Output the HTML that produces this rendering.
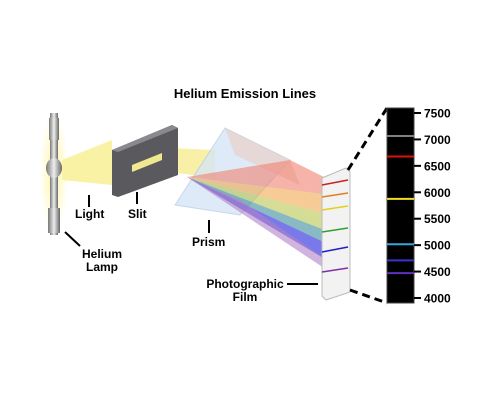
<!DOCTYPE html>
<html><head><meta charset="utf-8"><style>
html,body{margin:0;padding:0;background:#fff;}
svg{display:block;font-family:"Liberation Sans",Arial,sans-serif;font-weight:bold;}
</style></head><body>
<svg width="500" height="410" viewBox="0 0 500 410">
<defs>
<linearGradient id="lampG" x1="0" x2="1"><stop offset="0" stop-color="#777"/><stop offset="0.5" stop-color="#eee"/><stop offset="1" stop-color="#666"/></linearGradient>
<radialGradient id="glow"><stop offset="0" stop-color="#fff6a0"/><stop offset="1" stop-color="#fff6a0" stop-opacity="0"/></radialGradient>
</defs>
<text x="245" y="98" text-anchor="middle" font-size="13">Helium Emission Lines</text>

<g>
<polygon points="62,160 112,140 112,185 62,180" fill="#f8f09a" opacity="0.9"/>
<polygon points="170,148 215,150 215,178 170,172" fill="#f5ec90" opacity="0.8"/>
</g>
<g>
<ellipse cx="54" cy="172" rx="14" ry="62" fill="url(#glow)"/>
<rect x="50" y="113" width="8" height="122" fill="url(#lampG)"/>
<ellipse cx="54" cy="168" rx="8" ry="10" fill="url(#lampG)"/>
<rect x="48" y="208" width="12" height="25" fill="url(#lampG)"/>
<rect x="49" y="118" width="10" height="22" fill="url(#lampG)"/>
</g>
<g>
<polygon points="112,150 172,125 178,128 178,175 118,197 112,195" fill="#5a5a5e"/>
<polygon points="112,150 172,125 178,128 118,152" fill="#8a8a8e"/>
<polygon points="132,165 162,153 162,160 132,172" fill="#f0e890"/>
</g>
<g>
<polygon points="175,205 225,128 290,160 240,215" fill="#d6e6f6" opacity="0.8" stroke="#b8cce4"/>
<polygon points="225,128 290,160 300,185 235,155" fill="#e8d0c8" opacity="0.7"/>
</g>
<g>
<polygon points="187,177 290,160 330,180 330,195" fill="#f08070" opacity="0.6"/>
<polygon points="187,177 330,195 330,215" fill="#f0a040" opacity="0.55"/>
<polygon points="187,177 330,215 330,232" fill="#b0c040" opacity="0.55"/>
<polygon points="187,177 330,232 330,245" fill="#3a8a9a" opacity="0.6"/>
<polygon points="187,177 330,245 330,262" fill="#4040e0" opacity="0.7"/>
<polygon points="187,177 240,200 330,262 330,272" fill="#b080c8" opacity="0.6"/>
</g>
<g>
<polygon points="322,178 346,168 350,172 350,292 326,300 322,296" fill="#f2f2f2" stroke="#bbb"/>
<line x1="322" y1="185" x2="348" y2="180" stroke="#d02020" stroke-width="1.5"/>
<line x1="322" y1="197" x2="348" y2="193" stroke="#e08020" stroke-width="1.5"/>
<line x1="322" y1="210" x2="348" y2="206" stroke="#e0d020" stroke-width="1.5"/>
<line x1="322" y1="232" x2="348" y2="228" stroke="#30a030" stroke-width="1.5"/>
<line x1="322" y1="252" x2="348" y2="247" stroke="#2020c0" stroke-width="1.5"/>
<line x1="322" y1="272" x2="348" y2="268" stroke="#8030a0" stroke-width="1.5"/>
</g>
<line x1="348" y1="170" x2="387" y2="108" stroke="#000" stroke-width="3" stroke-dasharray="8,5"/>
<line x1="350" y1="290" x2="387" y2="303" stroke="#000" stroke-width="3" stroke-dasharray="8,5"/>

<g font-size="12">
<line x1="89" y1="195" x2="89" y2="207" stroke="#000" stroke-width="2"/>
<text x="75" y="218">Light</text>
<line x1="137" y1="192" x2="137" y2="204" stroke="#000" stroke-width="2"/>
<text x="128" y="218">Slit</text>
<line x1="209" y1="220" x2="209" y2="233" stroke="#000" stroke-width="2"/>
<text x="192" y="246">Prism</text>
<line x1="65" y1="232" x2="80" y2="246" stroke="#000" stroke-width="2"/>
<text x="102" y="258" text-anchor="middle">Helium</text>
<text x="102" y="271" text-anchor="middle">Lamp</text>
<text x="245" y="288" text-anchor="middle">Photographic</text>
<text x="245" y="301" text-anchor="middle">Film</text>
<line x1="287" y1="284" x2="318" y2="284" stroke="#000" stroke-width="2"/>
</g>
<g id="strip"></g>
</svg>
<script>
const tickValues=[7500,7000,6500,6000,5500,5000,4500,4000];
const lineWavelengths=[7065,6678,5876,5016,4713,4471];
const lineColors=["#808080","#e01010","#f0e020","#30a8e0","#4030d0","#6030c0"];
const ns="http://www.w3.org/2000/svg";
const g=document.getElementById('strip');
const yMin=4000,yMax=7500,yTop=113,yBot=298;
function y(v){return yBot-(v-yMin)/(yMax-yMin)*(yBot-yTop);}
function mk(t,a){const e=document.createElementNS(ns,t);for(const k in a)e.setAttribute(k,a[k]);g.appendChild(e);return e;}
const bg=mk('rect',{x:387,y:108,width:27,height:195,fill:'#000',stroke:'#444'});


lineWavelengths.forEach((w,i)=>{
 const l=mk('line',{x1:387,x2:414,y1:y(w),y2:y(w),stroke:lineColors[i],'stroke-width':2});
 
 
});
tickValues.forEach(v=>{
 const t=mk('line',{x1:414,x2:421,y1:y(v),y2:y(v),stroke:'#000','stroke-width':2});
 
 
 const tx=mk('text',{x:424,y:y(v)+4.5,'font-size':12});
 tx.textContent=v;
 
 
});
</script>
</body></html>
